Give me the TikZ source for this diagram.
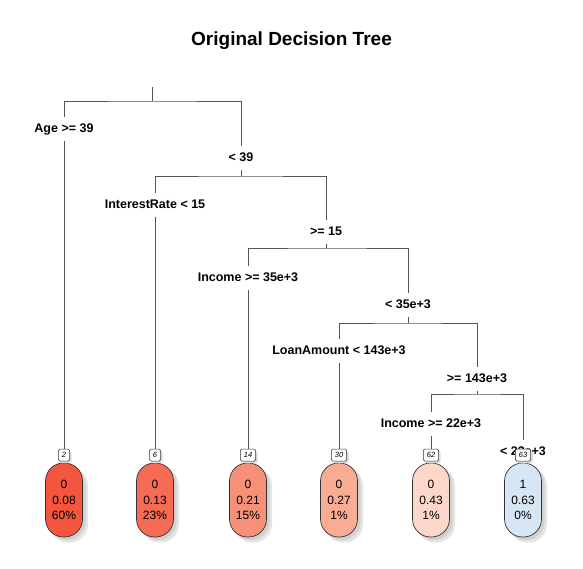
\documentclass[tikz,border=0pt]{standalone}
\usepackage{fontspec}
\setmainfont{Liberation Sans}
\definecolor{leafA}{RGB}{243,85,62}
\definecolor{leafB}{RGB}{245,107,85}
\definecolor{leafC}{RGB}{247,144,120}
\definecolor{leafD}{RGB}{249,172,148}
\definecolor{leafE}{RGB}{252,215,201}
\definecolor{leafF}{RGB}{214,230,245}
\definecolor{branchcol}{RGB}{85,85,85}
\newcommand{\treeleaf}[6]{%
  % #1 name, #2 x, #3 fill, #4 text, #5 number, #6 number-box name
  \node[leafshadowout] at (#2+5,505) {};
  \node[leafshadowin] at (#2+3,503) {};
  \node[leafbox, fill=#3] (#1) at (#2,500) {#4};
  \node[numshadow] at (#2+2,457) {\phantom{#5}};
  \node[numbox] (#6) at (#2,455) {#5};
}
\begin{document}
\begin{tikzpicture}[x=1pt,y=-1pt,
  branch/.style={draw=branchcol, line width=0.7pt},
  splitlab/.style={font=\fontsize{12.5}{14}\selectfont\bfseries, inner xsep=1pt, inner ysep=0pt,
    text height=9pt, text depth=2.6pt, minimum height=24pt},
  leafbox/.style={draw=black!80, line width=0.7pt, rounded corners=18pt, minimum width=37pt,
    minimum height=74pt, align=center, font=\fontsize{12}{15.5}\selectfont, inner sep=0pt},
  leafshadowout/.style={fill=black!10, rounded corners=18pt, minimum width=38pt, minimum height=75pt, inner sep=0pt},
  leafshadowin/.style={fill=black!18, rounded corners=18pt, minimum width=37pt, minimum height=74pt, inner sep=0pt},
  numbox/.style={draw=black!80, fill=white, line width=0.5pt, rounded corners=1.5pt,
    font=\fontsize{7.5}{8}\selectfont\itshape, minimum height=12pt, minimum width=11pt,
    inner xsep=3.5pt, inner ysep=0pt},
  numshadow/.style={fill=black!15, rounded corners=1.5pt, font=\fontsize{7.5}{8}\selectfont\itshape,
    minimum height=12pt, minimum width=11pt, inner xsep=3.5pt, inner ysep=0pt},
]
\useasboundingbox (0,0) rectangle (583,568);
\node[font=\fontsize{19}{21}\selectfont\bfseries] (title) at (291.5,41) {Original Decision Tree};

% split labels
\node[splitlab] (age)   at (64,129)  {Age >= 39};
\node[splitlab] (lt39)  at (241,158) {< 39};
\node[splitlab] (ir)    at (155,205) {InterestRate < 15};
\node[splitlab] (ge15)  at (326,232) {>= 15};
\node[splitlab] (inc)   at (248,278) {Income >= 35e+3};
\node[splitlab] (lt35)  at (408,305) {< 35e+3};
\node[splitlab] (loan)  at (339,351) {LoanAmount < 143e+3};
\node[splitlab] (ge143) at (477,379) {>= 143e+3};
\node[splitlab] (inc22) at (431,424) {Income >= 22e+3};
\node[splitlab] (lt22)  at (523,452) {< 22e+3};

% bar junctions
\coordinate (root) at (152,87);
\coordinate (s1) at (152,101);
\coordinate (s2) at (241,176);
\coordinate (s3) at (326,248);
\coordinate (s4) at (408,323);
\coordinate (s5) at (477,394);

% leaves
\treeleaf{l2}{64}{leafA}{0\\0.08\\60\%}{2}{n2}
\treeleaf{l6}{155}{leafB}{0\\0.13\\23\%}{6}{n6}
\treeleaf{l14}{248}{leafC}{0\\0.21\\15\%}{14}{n14}
\treeleaf{l30}{339}{leafD}{0\\0.27\\1\%}{30}{n30}
\treeleaf{l62}{431}{leafE}{0\\0.43\\1\%}{62}{n62}
\treeleaf{l63}{523}{leafF}{1\\0.63\\0\%}{63}{n63}

% branches
\draw[branch] (root) -- (s1);
\draw[branch] (age.north) |- (s1) -| (lt39.north);
\draw[branch] (age.south) -- (n2.north);
\draw[branch] (lt39.south) -- (s2);
\draw[branch] (ir.north) |- (s2) -| (ge15.north);
\draw[branch] (ir.south) -- (n6.north);
\draw[branch] (ge15.south) -- (s3);
\draw[branch] (inc.north) |- (s3) -| (lt35.north);
\draw[branch] (inc.south) -- (n14.north);
\draw[branch] (lt35.south) -- (s4);
\draw[branch] (loan.north) |- (s4) -| (ge143.north);
\draw[branch] (loan.south) -- (n30.north);
\draw[branch] (ge143.south) -- (s5);
\draw[branch] (inc22.north) |- (s5) -| (lt22.north);
\draw[branch] (inc22.south) -- (n62.north);

% box 63 drawn over the last label, as in the reference
\node[numshadow] at (525,457) {\phantom{63}};
\node[numbox] at (523,455) {63};
\end{tikzpicture}
\end{document}
